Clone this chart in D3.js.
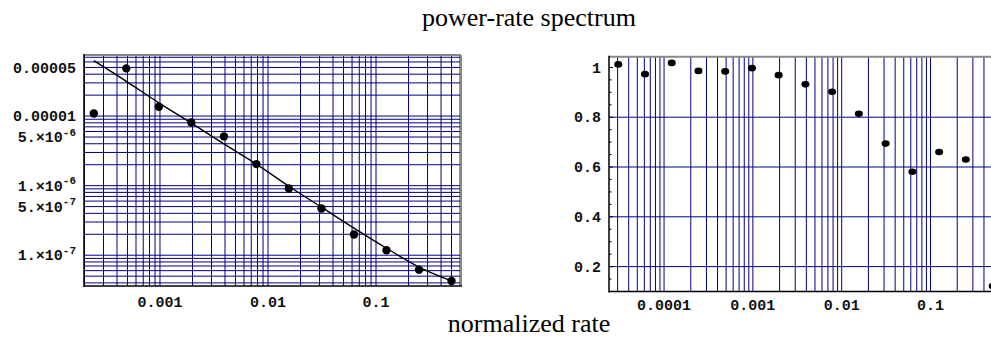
<!DOCTYPE html>
<html><head><meta charset="utf-8">
<script src="https://cdn.jsdelivr.net/npm/d3@7"></script>
<style>body{margin:0;background:#fff;} svg{display:block}</style>
</head><body><svg id="c" width="991" height="338"></svg>
<script>
// ---- data ----
const leftRates = [0.000244, 0.000488, 0.000977, 0.00195, 0.00391, 0.00781, 0.0156, 0.03125, 0.0625, 0.125, 0.25, 0.5];
const leftPower = [1.09e-5, 4.85e-5, 1.36e-5, 8.1e-6, 5.1e-6, 2.04e-6, 9.1e-7, 4.7e-7, 1.99e-7, 1.18e-7, 6.2e-8, 4.27e-8];
const leftFit   = [6.25e-5, 3.16e-5, 1.55e-5, 7.94e-6, 3.98e-6, 2.04e-6, 9.8e-7, 4.9e-7, 2.45e-7, 1.26e-7, 6.76e-8, 4.27e-8];
const rightRates = [0.0000305, 0.000061, 0.000122, 0.000244, 0.000488, 0.000977, 0.00195, 0.00391, 0.00781, 0.0156, 0.03125, 0.0625, 0.125, 0.25, 0.5];
const rightRatio = [1.012, 0.973, 1.018, 0.986, 0.984, 0.997, 0.969, 0.932, 0.902, 0.814, 0.694, 0.581, 0.66, 0.63, 0.122];
const leftXTicks = [0.001, 0.01, 0.1];
const leftXTickLabels = ["0.001", "0.01", "0.1"];
const leftYTicks = [5e-5, 1e-5, 5e-6, 1e-6, 5e-7, 1e-7];
const leftYTickLabels = [["0.00005"], ["0.00001"], ["5.\u00d710", "-6"], ["1.\u00d710", "-6"], ["5.\u00d710", "-7"], ["1.\u00d710", "-7"]];
const rightXTicks = [0.0001, 0.001, 0.01, 0.1];
const rightXTickLabels = ["0.0001", "0.001", "0.01", "0.1"];
const rightYTicks = [1, 0.8, 0.6, 0.4, 0.2];
const rightYTickLabels = ["1", "0.8", "0.6", "0.4", "0.2"];
const rightYGrid = [0.8, 0.6, 0.4, 0.2];
const titleText = "power-rate spectrum";
const xTitleText = "normalized rate";

// ---- drawing ----
const svg = d3.select("#c");
const GRID = "#000080";
const tickFont = "'Liberation Mono', 'Courier New', monospace";
const serif = "'Liberation Serif', 'Times New Roman', serif";

function logGridValues(lo, hi) {
  const out = [];
  for (let e = Math.floor(Math.log10(lo)) - 1; e <= Math.ceil(Math.log10(hi)); e++)
    for (let k = 1; k <= 9; k++) { const v = k * Math.pow(10, e); if (v > lo * 1.0001 && v < hi * 0.9999) out.push(v); }
  return out;
}

// Left panel
const L = {x0: 84, x1: 461, y0: 55, y1: 286};
const xL = d3.scaleLog().domain([1.98e-4, 0.612]).range([L.x0, L.x1]);
const yL = d3.scaleLog().domain([3.61e-8, 7.55e-5]).range([L.y1, L.y0]);
const gL = svg.append("g");
gL.selectAll("line.vg").data(logGridValues(...xL.domain())).join("line")
  .attr("x1", d => xL(d)).attr("x2", d => xL(d)).attr("y1", L.y0).attr("y2", L.y1)
  .attr("stroke", GRID).attr("stroke-width", 1);
gL.selectAll("line.hg").data(logGridValues(...yL.domain())).join("line")
  .attr("y1", d => yL(d)).attr("y2", d => yL(d)).attr("x1", L.x0).attr("x2", L.x1)
  .attr("stroke", GRID).attr("stroke-width", 1);
gL.append("line").attr("x1", L.x0).attr("x2", L.x1).attr("y1", L.y0).attr("y2", L.y0).attr("stroke", "#888").attr("stroke-width", 2);
gL.append("line").attr("x1", L.x1).attr("x2", L.x1).attr("y1", L.y0).attr("y2", L.y1).attr("stroke", "#888").attr("stroke-width", 2);
gL.append("line").attr("x1", L.x0).attr("x2", L.x0).attr("y1", L.y0 - 1).attr("y2", L.y1 + 1).attr("stroke", "#000").attr("stroke-width", 1.5);
gL.append("line").attr("x1", L.x0).attr("x2", L.x1 + 1).attr("y1", L.y1).attr("y2", L.y1).attr("stroke", "#000").attr("stroke-width", 1.5);
const fitLine = d3.line().x((d, i) => xL(leftRates[i])).y(d => yL(d)).curve(d3.curveMonotoneX);
gL.append("path").attr("d", fitLine(leftFit)).attr("fill", "none").attr("stroke", "#000").attr("stroke-width", 1.4);
gL.selectAll("circle").data(leftPower).join("circle")
  .attr("cx", (d, i) => xL(leftRates[i])).attr("cy", d => yL(d)).attr("r", 4.2).attr("fill", "#000");
leftYTicks.forEach((v, i) => {
  const lab = leftYTickLabels[i];
  const t = svg.append("text").attr("x", 76).attr("y", yL(v)).attr("dy", "0.35em")
    .attr("text-anchor", "end").attr("font-family", tickFont).attr("font-weight", "bold").attr("font-size", 15)
    .attr("fill", "#111");
  t.append("tspan").text(lab[0]);
  if (lab[1]) t.append("tspan").attr("font-size", 11).attr("dy", "-0.6em").text(lab[1]);
});
leftXTicks.forEach((v, i) => {
  svg.append("text").attr("x", xL(v)).attr("y", 302).attr("dy", "0.35em").attr("text-anchor", "middle")
    .attr("font-family", tickFont).attr("font-weight", "bold").attr("font-size", 15).attr("fill", "#111")
    .text(leftXTickLabels[i]);
});

// Right panel
const R = {x0: 609, x1: 1005, y0: 56.7, y1: 291.5};
const xR = d3.scaleLog().domain([2.4e-5, 0.69]).range([R.x0, R.x1]);
const yR = d3.scaleLinear().domain([0.1, 1.043]).range([R.y1, R.y0]);
const gR = svg.append("g");
gR.selectAll("line.vg").data(logGridValues(...xR.domain())).join("line")
  .attr("x1", d => xR(d)).attr("x2", d => xR(d)).attr("y1", R.y0).attr("y2", R.y1)
  .attr("stroke", GRID).attr("stroke-width", 1);
gR.selectAll("line.hg").data(rightYGrid).join("line")
  .attr("y1", d => yR(d)).attr("y2", d => yR(d)).attr("x1", R.x0).attr("x2", R.x1)
  .attr("stroke", GRID).attr("stroke-width", 1);
gR.selectAll("line.mt").data(d3.range(0.15, 1.04, 0.05)).join("line")
  .attr("x1", R.x0).attr("x2", d => R.x0 + (Math.abs(d * 5 - Math.round(d * 5)) < 1e-6 ? 4 : 2.5))
  .attr("y1", d => yR(d)).attr("y2", d => yR(d)).attr("stroke", "#000").attr("stroke-width", 1);
gR.append("line").attr("x1", R.x0).attr("x2", R.x1).attr("y1", R.y0).attr("y2", R.y0).attr("stroke", "#888").attr("stroke-width", 2);
gR.append("line").attr("x1", R.x0).attr("x2", R.x0).attr("y1", R.y0 - 1).attr("y2", R.y1 + 1).attr("stroke", "#000").attr("stroke-width", 1.5);
gR.append("line").attr("x1", R.x0).attr("x2", R.x1).attr("y1", R.y1).attr("y2", R.y1).attr("stroke", "#000").attr("stroke-width", 1.5);
gR.selectAll("ellipse").data(rightRatio).join("ellipse")
  .attr("cx", (d, i) => xR(rightRates[i])).attr("cy", d => yR(d)).attr("rx", 4).attr("ry", 3.3).attr("fill", "#000");
rightYTicks.forEach((v, i) => {
  svg.append("text").attr("x", 601).attr("y", yR(v)).attr("dy", "0.35em").attr("text-anchor", "end")
    .attr("font-family", tickFont).attr("font-weight", "bold").attr("font-size", 15).attr("fill", "#111")
    .text(rightYTickLabels[i]);
});
rightXTicks.forEach((v, i) => {
  svg.append("text").attr("x", xR(v)).attr("y", 305).attr("dy", "0.35em").attr("text-anchor", "middle")
    .attr("font-family", tickFont).attr("font-weight", "bold").attr("font-size", 15).attr("fill", "#111")
    .text(rightXTickLabels[i]);
});

// Titles
svg.append("text").attr("x", 529).attr("y", 26).attr("text-anchor", "middle")
  .attr("font-family", serif).attr("font-size", 26).text(titleText);
svg.append("text").attr("x", 529).attr("y", 332).attr("text-anchor", "middle")
  .attr("font-family", serif).attr("font-size", 26).text(xTitleText);
</script></body></html>
